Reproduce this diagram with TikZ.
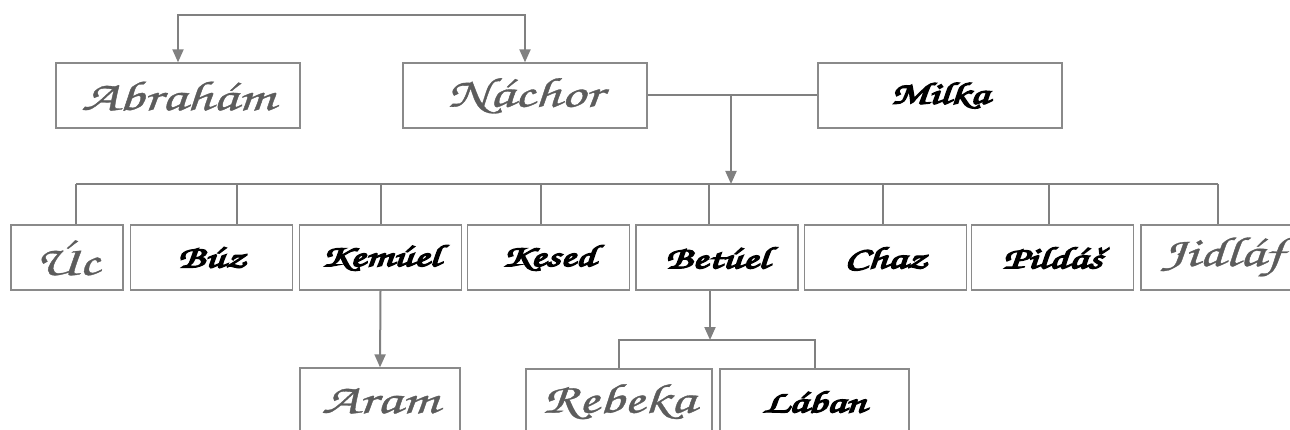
\documentclass[tikz,border=0pt]{standalone}
\usepackage[T1,TU]{fontenc}
\usepackage{graphicx}
\usepackage{xcolor}
\usepackage{tikz}
\usetikzlibrary{arrows.meta}

\definecolor{linegray}{HTML}{808080}
\definecolor{boxgray}{HTML}{8A8A8A}
\definecolor{namegray}{HTML}{5C5C5C}

\newcommand{\chancery}{\fontencoding{T1}\fontfamily{pzc}\fontseries{mb}\fontshape{it}}
\newcommand{\oldname}[1]{{\chancery\fontsize{42}{44}\selectfont\color{namegray}\special{pdf:literal direct 2 Tr 0.3 w}\scalebox{1.42}[1]{#1}\special{pdf:literal direct 0 Tr}}}
\newcommand{\boldname}[1]{{\chancery\fontsize{31}{34}\selectfont\color{black}\special{pdf:literal direct 2 Tr 1.2 w}\scalebox{1.45}[1]{#1}\special{pdf:literal direct 0 Tr}}}

\begin{document}
\begin{tikzpicture}
  [
    x=1pt, y=-1pt,
    person/.style={
       draw=boxgray,
       line width=1.3pt,
       fill=white,
       minimum height=65pt,
       minimum width=162pt,
       inner sep=0pt
    },
    ln/.style={
       draw=linegray,
       line width=2pt
    },
    arr/.style={
       ln,
       -{Triangle[width=11pt,length=13pt]}
    }
  ]
  \useasboundingbox (0,0) rectangle (1290,430);
  \clip (0,0) rectangle (1290,430);

  % parents
  \node (abr) at ( 178,95.5) [person, minimum width=244pt] {\oldname{Abrah\'am}};
  \node (nac) at ( 525,95.5) [person, minimum width=244pt] {\oldname{N\'achor}};
  \node (mil) at ( 940,95.5) [person, minimum width=244pt] {\boldname{Milka}};

  % children of Nachor and Milka
  \node (uc)  at (  67,257.5) [person, minimum width=112pt] {\oldname{\'Uc}};
  \node (buz) at ( 211.5,257.5) [person] {\boldname{B\'uz}};
  \node (kem) at ( 380.5,257.5) [person] {\boldname{Kem\'uel}};
  \node (kes) at ( 548.5,257.5) [person] {\boldname{Kesed}};
  \node (bet) at ( 717,257.5) [person] {\boldname{Bet\'uel}};
  \node (cha) at ( 885.5,257.5) [person] {\boldname{Chaz}};
  \node (pil) at (1052.5,257.5) [person] {\boldname{Pild\'a\v{s}}};
  \node (jid) at (1222,257.5) [person] {\oldname{Jidl\'af}};

  % grandchildren
  \node (ara) at ( 380,400.5) [person, minimum width=160pt] {\oldname{Aram}};
  \node (reb) at ( 619,401.5) [person, minimum width=186pt] {\oldname{Rebeka}};
  \node (lab) at ( 814.5,401.5) [person, minimum width=189pt] {\boldname{L\'aban}};

  % brothers
  \coordinate (top) at (350,15);
  \draw [ln, {Triangle[width=11pt,length=13pt]}-{Triangle[width=11pt,length=13pt]}]
        (abr.north) |- (top) -| (nac.north);

  % marriage and children bar
  \coordinate (wed)  at ( 731,95.5);
  \coordinate (kids) at ( 731,184);
  \coordinate (barl) at (  76,184);
  \coordinate (barr) at (1218,184);
  \draw [ln] (nac.east) -- (mil.west);
  \draw [arr] (wed) -- (kids);
  \draw [ln] (barl) -- (barr);
  \foreach \x/\n in {76/uc, 237/buz, 380.5/kem, 541/kes, 709/bet, 883/cha, 1049/pil, 1218/jid}
    \draw [ln] (\x,184) -- (\x,184 |- \n.north);

  % Kemuel and Betuel
  \draw [arr] (kem.south) -- (ara.north);
  \coordinate (sib) at (710,340);
  \draw [arr] (bet.south -| sib) -- (sib);
  \draw [ln] (reb.north) |- (sib) -| (lab.north);
\end{tikzpicture}
\end{document}
